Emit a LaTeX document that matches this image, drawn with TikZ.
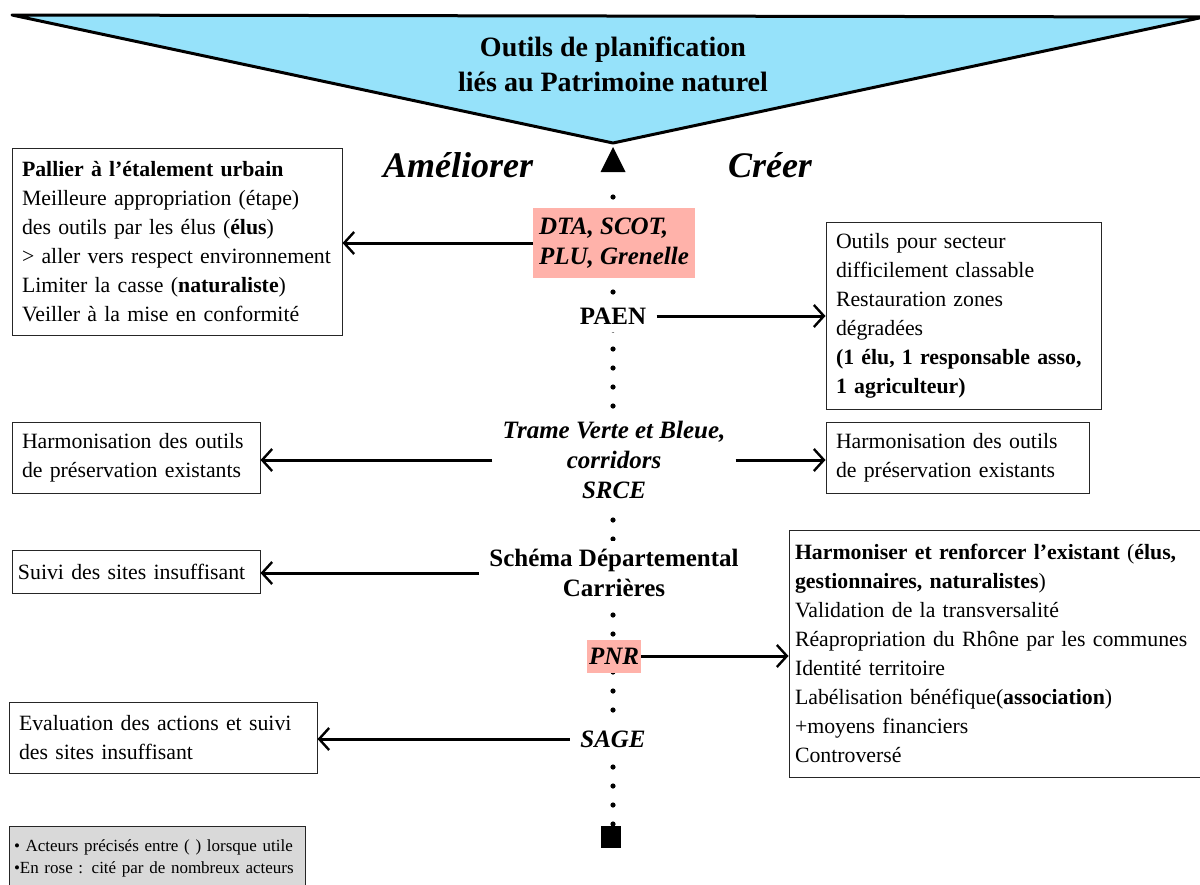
\documentclass[tikz,border=0pt]{standalone}
\usepackage{fontspec}
\setmainfont{Liberation Serif}
\usepackage{tikz}
\usetikzlibrary{arrows.meta,calc,positioning}
\hyphenpenalty=10000
\exhyphenpenalty=10000
\definecolor{cielbleu}{RGB}{150,226,250}
\definecolor{rose}{RGB}{255,178,170}
\definecolor{grisleg}{RGB}{217,217,217}
\tikzset{%
	boite/.style     = {draw=black!85, line width=0.5pt, fill=white, align=left, inner xsep=5pt, inner ysep=0pt, font=\fontsize{10.9}{14.5}\selectfont},
	outil/.style     = {fill=white, align=center, inner xsep=5pt, inner ysep=4pt, font=\fontsize{12.5}{15}\selectfont\bfseries},
	outilit/.style   = {outil, font=\fontsize{12.5}{15}\selectfont\bfseries\itshape},
	outilrose/.style = {outilit, fill=rose, align=left, inner sep=1pt},
	titre/.style     = {align=center, font=\fontsize{18}{20}\selectfont\bfseries\itshape},
	fleche/.style    = {line width=1.5pt, -{Straight Barb[length=5pt,width=11pt,line width=1.2pt]}},
	pointille/.style = {line width=2.6pt, line cap=round, dash pattern=on 0pt off 9.5pt},
}

\begin{document}
\begin{tikzpicture}[x=0.5pt,y=-0.5pt]
	\useasboundingbox (0,0) rectangle (1200,884);
	% entonnoir du haut
	\draw[fill=cielbleu, line width=1.5pt, line join=round] (12,15) -- (1204,17) -- (613,143) -- cycle;
	\node[align=center, font=\fontsize{14}{17.5}\selectfont\bfseries] (entete) at (613,64) {Outils de planification\\li\'es au Patrimoine naturel};
	\node[titre] (ameliorer) at (458,165) {Améliorer};
	\node[titre] (creer) at (770,165) {Créer};
	
	% axe vertical en pointilles
	\coordinate (haut) at (613,180);
	\coordinate (bas) at (613,824);
	\draw[pointille] (bas) -- (haut);
	\fill (600.5,172) -- (613,147) -- (625.5,172) -- cycle;
	\node[fill=black, minimum width=10pt, minimum height=11pt, inner sep=0pt] (fin) at (611,837) {};
	
	% outils sur l'axe
	\node[outilrose, minimum width=81pt, minimum height=35pt] (dta) at (614,243) {DTA, SCOT,\\PLU, Grenelle};
	\node[outil] (paen) at (613,316) {PAEN};
	\node[outilit] (tvb) at (614,460) {Trame Verte et Bleue,\\corridors\\SRCE};
	\node[outil] (sdc) at (614,573) {Schéma Départemental\\Carrières};
	\node[outilrose, align=center, minimum width=27pt, minimum height=16.5pt] (pnr) at (614,656) {PNR};
	\node[outilit] (sage) at (613,739) {SAGE};
	
	% cote ameliorer
	\node[boite, text width=155pt, minimum height=93.5pt] (b1) at (177,241.5) {\textbf{Pallier à l’étalement urbain}\\Meilleure appropriation (étape)\\des outils par les élus (\textbf{élus})\\> aller vers respect environnement\\Limiter la casse (\textbf{naturaliste})\\Veiller à la mise en conformité};
	\node[boite, text width=114pt, minimum height=35.5pt] (b3) at (136,457.5) {Harmonisation des outils\\de préservation existants};
	\node[boite, inner xsep=3pt, text width=118pt, minimum height=21.5pt] (b5) at (136,571.5) {Suivi des sites insuffisant};
	\node[boite, text width=144pt, minimum height=35.5pt] (b7) at (163,737.5) {Evaluation des actions et suivi\\des sites insuffisant};
	
	% cote creer
	\node[boite, text width=127.5pt, minimum height=93.5pt] (b2) at (963.5,315.5) {Outils pour secteur\\difficilement classable\\Restauration zones\\dégradées\\\textbf{(1 élu, 1 responsable asso,}\\\textbf{1 agriculteur)}};
	\node[boite, text width=121.5pt, minimum height=35.5pt] (b4) at (957.5,457.5) {Harmonisation des outils\\de préservation existants};
	\node[boite, inner xsep=3pt, text width=199.5pt, minimum height=123.5pt] (b6) at (994.5,653.5) {\textbf{Harmoniser et renforcer l’existant} (\textbf{élus,}\\\textbf{gestionnaires, naturalistes})\\Validation de la transversalité\\Réapropriation du Rhône par les communes\\Identité territoire\\Labélisation bénéfique(\textbf{association})\\+moyens financiers\\Controversé};
	
	% legende
	\node[boite, fill=grisleg, inner xsep=2.5pt, text width=143pt, minimum height=32pt, font=\fontsize{8.5}{11}\selectfont] (legende) at (157,858) {\textbullet\ Acteurs précisés entre ( ) lorsque utile\\\textbullet En rose : cité par de nombreux acteurs};
	
	% fleches
	\draw[fleche] (dta.west) -- (dta.west -| b1.east);
	\draw[fleche] (paen.east) -- (paen.east -| b2.west);
	\draw[fleche] (tvb.west) -- (tvb.west -| b3.east);
	\draw[fleche] (tvb.east) -- (tvb.east -| b4.west);
	\draw[fleche] (sdc.west) -- (sdc.west -| b5.east);
	\draw[fleche] (pnr.east) -- (pnr.east -| b6.west);
	\draw[fleche] (sage.west) -- (sage.west -| b7.east);
\end{tikzpicture}
\end{document}
